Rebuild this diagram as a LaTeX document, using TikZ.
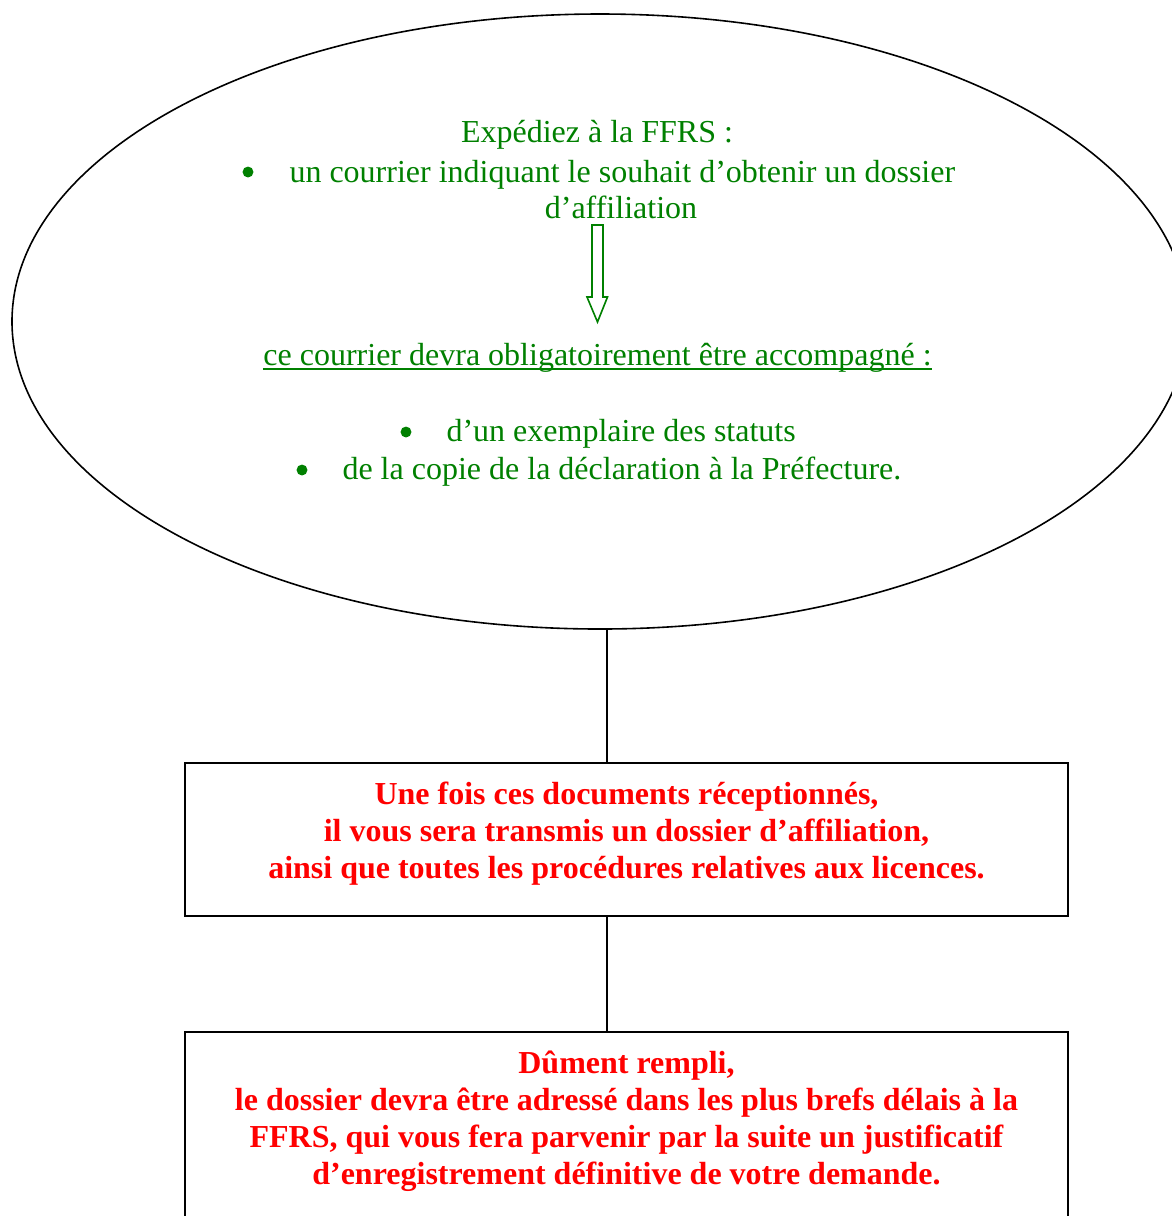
\documentclass[tikz,border=0pt]{standalone}
\usepackage{fontspec}
\setmainfont{Liberation Serif}
\usetikzlibrary{shapes.geometric}
\definecolor{ffrsvert}{RGB}{0,128,0}
\definecolor{ffrsrouge}{RGB}{255,0,0}
\tikzset{
  vert/.style={text=ffrsvert, inner sep=0pt, font=\fontsize{12}{13.875}\selectfont},
  puce/.style={circle, fill=ffrsvert, inner sep=0pt, minimum size=4.1pt},
  rouge/.style={text=ffrsrouge, inner sep=0pt, align=center, font=\fontsize{12}{13.875}\selectfont\bfseries},
  boite/.style={draw, line width=0.75pt, minimum width=331.125pt}
}
\begin{document}
\begin{tikzpicture}[x=0.375pt, y=-0.375pt]
  \useasboundingbox (0, 0) rectangle (1172, 1216);
  \clip (0, 0) rectangle (1172, 1216);

  \node[draw, ellipse, line width=0.6pt, inner sep=0pt,
        minimum width=441pt, minimum height=230.625pt] (bulle) at (600, 321.5) {};

  \node[vert, anchor=base] (expediez) at (597, 142) {Expédiez à la FFRS :};
  \node[puce] (puce1) at (248, 172) {};
  \node[vert, anchor=base west] (courrier) at (289, 182) {un courrier indiquant le souhait d’obtenir un dossier};
  \node[vert, anchor=base] (affiliation) at (621, 218) {d’affiliation};
  \draw[ffrsvert, line width=0.6pt, line join=miter]
    (592, 225) -- (603, 225) -- (603, 297) -- (607.5, 297) -- (597.5, 322)
    -- (587, 297) -- (592, 297) -- cycle;
  \node[vert, anchor=base] (accompagne) at (597.5, 365.5) {ce courrier devra obligatoirement être accompagné :};
  \draw[ffrsvert, line width=0.7pt]
    ([yshift=-1.3pt]accompagne.base west) -- ([yshift=-1.3pt]accompagne.base east);
  \node[puce] (puce2) at (406, 432) {};
  \node[vert, anchor=base west] (statuts) at (446, 441) {d’un exemplaire des statuts};
  \node[puce] (puce3) at (302, 470) {};
  \node[vert, anchor=base west] (prefecture) at (342, 479) {de la copie de la déclaration à la Préfecture.};

  \node[boite, minimum height=57.375pt] (fois) at (626.5, 839.5) {};
  \node[rouge] (foistexte) at (626.5, 834) {Une fois ces documents réceptionnés,\\
    il vous sera transmis un dossier d’affiliation,\\
    ainsi que toutes les procédures relatives aux licences.};

  \node[boite, minimum height=82.5pt] (rempli) at (626.5, 1142) {};
  \node[rouge] (remplitexte) at (626.5, 1121.5) {Dûment rempli,\\
    le dossier devra être adressé dans les plus brefs délais à la\\
    FFRS, qui vous fera parvenir par la suite un justificatif\\
    d’enregistrement définitive de votre demande.};

  \coordinate (lien) at (607, 0);
  \draw[line width=0.6pt] (bulle.south -| lien) -- (fois.north -| lien);
  \draw[line width=0.6pt] (fois.south -| lien) -- (rempli.north -| lien);
\end{tikzpicture}
\end{document}
